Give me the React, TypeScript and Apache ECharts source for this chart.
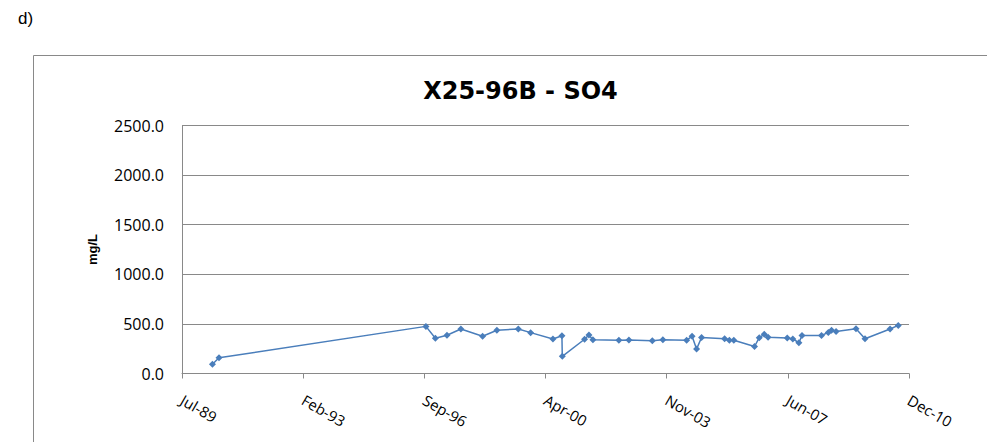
import React, { useEffect, useRef } from "react";
import * as echarts from "echarts";

// Sample dates (YYYY-MM-DD) and sulphate concentrations (mg/L)
const sampleDates: string[] = [
  "1990-06-08", "1990-08-18", "1996-09-25", "1997-01-05", "1997-05-10",
  "1997-10-07", "1998-05-29", "1998-10-30", "1999-06-18", "1999-10-29",
  "2000-06-25", "2000-09-30", "2000-10-04", "2001-06-01", "2001-07-18",
  "2001-08-30", "2002-06-06", "2002-09-22", "2003-06-01", "2003-09-23",
  "2004-06-05", "2004-08-03", "2004-09-20", "2004-11-13", "2005-07-20",
  "2005-09-09", "2005-10-27", "2006-06-07", "2006-07-28", "2006-09-20",
  "2006-10-31", "2007-05-26", "2007-07-25", "2007-09-28", "2007-11-01",
  "2008-05-29", "2008-08-10", "2008-09-14", "2008-11-02", "2009-06-05",
  "2009-09-10", "2010-06-07", "2010-09-03",
];
const so4Values: number[] = [
  94, 158, 475, 355, 386,
  449, 375, 436, 449, 412,
  348, 381, 173, 345, 388,
  340, 336, 338, 331, 341,
  336, 375, 246, 363, 351,
  336, 336, 272, 361, 395,
  366, 358, 348, 310, 383,
  383, 414, 436, 424, 452,
  350, 449, 485,
];

// Axis settings (Excel-style date axis)
const axisStartDate = "1989-07-15";
const axisIntervalDays = 1306;
const axisIntervalCount = 6;
const yTicks: number[] = [0, 500, 1000, 1500, 2000, 2500];
const monthNames: string[] = ["Jan", "Feb", "Mar", "Apr", "May", "Jun", "Jul", "Aug", "Sep", "Oct", "Nov", "Dec"];

const DAY_MS = 86400000;
const startMs = Date.parse(axisStartDate);

function toDayOffset(d: string): number {
  return (Date.parse(d) - startMs) / DAY_MS;
}

function fmtDate(v: number): string {
  const d = new Date(startMs + Math.round(v) * DAY_MS);
  const yy = String(d.getUTCFullYear() % 100).padStart(2, "0");
  return monthNames[d.getUTCMonth()] + "-" + yy;
}

export default function App() {
  const ref = useRef<HTMLDivElement>(null);

  useEffect(() => {
    if (!ref.current) return;
    const chart = echarts.init(ref.current, null, { renderer: "svg" });
    const data = sampleDates.map((d, i) => [toDayOffset(d), so4Values[i]]);
    const gray = "#898989";
    const tickFont = "'Open Sans', 'Liberation Sans', sans-serif";

    chart.setOption({
      animation: false,
      backgroundColor: "#ffffff",
      grid: { left: 182, right: 78, top: 125.5, bottom: 68.5, containLabel: false },
      graphic: [
        {
          type: "rect",
          shape: { x: 33.5, y: 55.5, width: 1100, height: 600 },
          style: { fill: "none", stroke: gray, lineWidth: 1 },
          silent: true,
          z: -1,
        },
        {
          type: "text",
          x: 18,
          y: 10,
          style: {
            text: "d)",
            fontFamily: "'Liberation Sans', Arial, sans-serif",
            fontSize: 17,
            fill: "#000",
            textVerticalAlign: "top",
          },
        },
        {
          type: "text",
          x: 520.5,
          y: 79,
          style: {
            text: "X25-96B - SO4",
            fontFamily: "'DejaVu Sans', sans-serif",
            fontWeight: "bold",
            fontSize: 24,
            fill: "#000",
            textAlign: "center",
            textVerticalAlign: "top",
          },
        },
      ],
      xAxis: {
        type: "value",
        min: 0,
        max: axisIntervalDays * axisIntervalCount,
        interval: axisIntervalDays,
        axisLine: { show: true, lineStyle: { color: gray, width: 1 } },
        axisTick: { show: true, length: 5, lineStyle: { color: gray } },
        splitLine: { show: false },
        axisLabel: {
          formatter: (v: number) => fmtDate(v),
          rotate: -30,
          margin: 25,
          fontFamily: tickFont,
          fontSize: 15,
          color: "#000",
          showMaxLabel: true,
          showMinLabel: true,
        },
      },
      yAxis: {
        type: "value",
        min: yTicks[0],
        max: yTicks[yTicks.length - 1],
        interval: yTicks[1] - yTicks[0],
        name: "mg/L",
        nameLocation: "middle",
        nameGap: 83,
        nameRotate: 90,
        nameTextStyle: {
          fontFamily: "'Liberation Sans', Arial, sans-serif",
          fontWeight: "bold",
          fontSize: 13,
          color: "#000",
        },
        axisLine: { show: true, lineStyle: { color: gray, width: 1 } },
        axisTick: { show: false },
        splitLine: { show: true, lineStyle: { color: gray, width: 1 } },
        axisLabel: {
          formatter: (v: number) => v.toFixed(1),
          margin: 18,
          fontFamily: tickFont,
          fontSize: 16,
          color: "#000",
        },
      },
      series: [
        {
          type: "line",
          data,
          symbol: "diamond",
          symbolSize: 7,
          showAllSymbol: true,
          lineStyle: { color: "#4a7ebb", width: 1.5 },
          itemStyle: { color: "#4a7ebb" },
        },
      ],
    });

    return () => chart.dispose();
  }, []);

  return (
    <div
      ref={ref}
      style={{ position: "fixed", left: 0, top: 0, width: 987, height: 442, background: "#fff" }}
    />
  );
}
